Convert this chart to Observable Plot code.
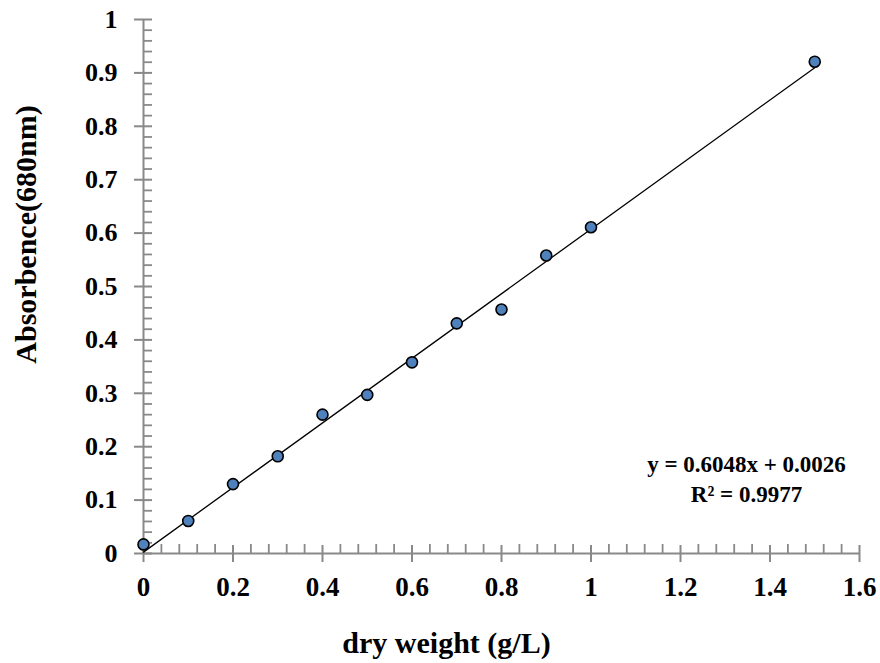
<!DOCTYPE html>
<html>
<head>
<meta charset="utf-8">
<script src="https://cdn.jsdelivr.net/npm/d3@7"></script>
<script src="https://cdn.jsdelivr.net/npm/@observablehq/plot@0.6"></script>
<style>
  html, body { margin: 0; padding: 0; background: #fff; }
  #chart svg { display: block; }
</style>
</head>
<body>
<div id="chart"></div>
<script>
// Data
const dryWeight = [0, 0.1, 0.2, 0.3, 0.4, 0.5, 0.6, 0.7, 0.8, 0.9, 1.0, 1.5];
const absorbance = [0.017, 0.061, 0.130, 0.182, 0.260, 0.297, 0.358, 0.431, 0.457, 0.558, 0.611, 0.921];
const slope = 0.6048;
const intercept = 0.0026;
const r2Text = "R² = 0.9977";
const eqText = "y = 0.6048x + 0.0026";
const xTicks = [0, 0.2, 0.4, 0.6, 0.8, 1, 1.2, 1.4, 1.6];
const yTicks = [0, 0.1, 0.2, 0.3, 0.4, 0.5, 0.6, 0.7, 0.8, 0.9, 1];
const xTitle = "dry weight (g/L)";
const yTitle = "Absorbence(680nm)";

const points = dryWeight.map((x, i) => ({x, y: absorbance[i]}));
const fitX = [0, 1.5];
const fitLine = fitX.map(x => ({x, y: slope * x + intercept}));
const xMinor = d3.range(0, 1.6001, 0.04).filter(v => Math.abs(v / 0.2 - Math.round(v / 0.2)) > 1e-6);
const yMinor = d3.range(0, 1.0001, 0.02).filter(v => Math.abs(v / 0.1 - Math.round(v / 0.1)) > 1e-6);

const W = 880, H = 663;
const mL = 143, mR = 21, mT = 19, mB = 110;
const fw = W - mL - mR, fh = H - mT - mB;
const axisColor = "#898989";
const font = "'Liberation Serif', 'Times New Roman', serif";

const chart = Plot.plot({
  width: W,
  height: H,
  marginLeft: mL,
  marginRight: mR,
  marginTop: mT,
  marginBottom: mB,
  style: {fontFamily: font, background: "#fff", color: "#000"},
  x: {domain: [0, 1.6], axis: null},
  y: {domain: [0, 1], axis: null},
  marks: [
    // axis lines
    Plot.ruleX([0], {stroke: axisColor, strokeWidth: 2}),
    Plot.ruleY([0], {stroke: axisColor, strokeWidth: 2}),
    // minor ticks (inside)
    Plot.tickX(xMinor, {x: d => d, stroke: axisColor, strokeWidth: 1.8, insetTop: fh - 9}),
    Plot.tickY(yMinor, {y: d => d, stroke: axisColor, strokeWidth: 1.8, insetRight: fw - 9}),
    // major ticks (crossing)
    Plot.tickX(xTicks, {x: d => d, stroke: axisColor, strokeWidth: 2, insetTop: fh - 8, insetBottom: -9}),
    Plot.tickY(yTicks, {y: d => d, stroke: axisColor, strokeWidth: 2, insetLeft: -9, insetRight: fw - 9}),
    // tick labels
    Plot.text(xTicks, {x: d => d, y: 0, text: d => String(d), dy: 34, fontSize: 27, fontWeight: "bold", fontFamily: font, fill: "#000"}),
    Plot.text(yTicks, {x: 0, y: d => d, text: d => String(d), dx: -26, textAnchor: "end", fontSize: 26, fontWeight: "bold", fontFamily: font, fill: "#000"}),
    // trendline
    Plot.line(fitLine, {x: "x", y: "y", stroke: "#000", strokeWidth: 1.3}),
    // data points
    Plot.dot(points, {x: "x", y: "y", r: 5.5, fill: "#4F81BD", stroke: "#000", strokeWidth: 1.6}),
    // equation
    Plot.text([eqText + "\n" + r2Text], {frameAnchor: "bottom-right", dx: -113, dy: -76, textAnchor: "middle", lineAnchor: "middle", lineHeight: 1.3, fontSize: 23, fontWeight: "bold", fontFamily: font, fill: "#000"}),
    // axis titles
    Plot.text([xTitle], {frameAnchor: "bottom", dx: -55, dy: 90, textAnchor: "middle", lineAnchor: "middle", fontSize: 30, fontWeight: "bold", fontFamily: font, fill: "#000"}),
    Plot.text([yTitle], {frameAnchor: "left", dx: -117, dy: -52, rotate: -90, textAnchor: "middle", lineAnchor: "middle", fontSize: 30, fontWeight: "bold", fontFamily: font, fill: "#000"})
  ]
});
document.getElementById("chart").appendChild(chart);
</script>
</body>
</html>
